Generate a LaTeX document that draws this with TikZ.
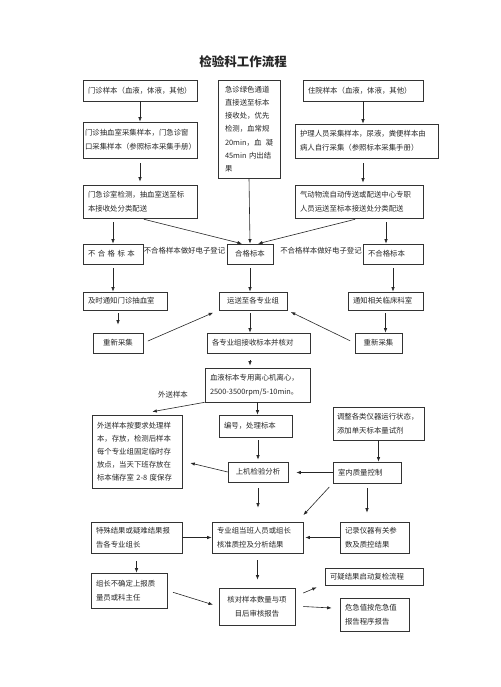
\documentclass[tikz,border=0pt]{standalone}
\usepackage{fontspec}
\newfontfamily\cjk{Noto Sans CJK SC}
\usetikzlibrary{arrows.meta}

\begin{document}
\begin{tikzpicture}[x=1pt,y=-1pt,
    box/.style={draw=black!80, line width=0.6pt, inner xsep=5pt, inner ysep=0pt,
      align=left, font=\cjk\fontsize{7.4}{14}\selectfont, text=black!85},
    cbox/.style={box, align=center},
    lbl/.style={font=\cjk\fontsize{7.4}{14}\selectfont, text=black!85, inner sep=0pt},
    arr/.style={-{Latex[length=4.5pt,width=3.4pt]}, draw=black!85, line width=0.6pt}]
  \useasboundingbox (0,0) rectangle (500,687);

  \node[lbl, font=\cjk\bfseries\fontsize{12.5}{14}\selectfont] (title) at (243,62) {检验科工作流程};

  % sample intake
  \node[box, text width=104pt, minimum height=21pt] (out_smp) at (140,90.5) {门诊样本（血液，体液，其他）};
  \node[box, inner xsep=2pt, text width=110pt, minimum height=36pt] (out_col) at (140,140) {门诊抽血室采集样本，门急诊窗\\口采集样本（参照标本采集手册）};
  \node[box, text width=104pt, minimum height=33pt] (out_chk) at (140,201.5) {门急诊室检测，抽血室送至标\\本接收处分类配送};
  \node[box, inner xsep=7pt, text width=48pt, minimum height=98pt,
    font=\cjk\fontsize{7.4}{13.2}\selectfont] (emg) at (249,129) {急诊绿色通道\\直接送至标本\\接收处，优先\\检测，血常规\\20min，血\hfill 凝\\45min~内出结\\果};
  \node[box, text width=110pt, minimum height=21pt] (in_smp) at (363,90.5) {住院样本（血液，体液，其他）};
  \node[box, text width=133pt, minimum height=34pt] (in_col) at (366.5,141) {护理人员采集样本，尿液，粪便样本由\\病人自行采集（参照标本采集手册）};
  \node[box, text width=118pt, minimum height=33pt] (in_tr) at (359,201.5) {气动物流自动传送或配送中心专职\\人员运送至标本接送处分类配送};

  % sorting
  \node[box, text width=50pt, minimum height=20pt] (bad_l) at (113,254) {不 合 格 标 本};
  \node[cbox, minimum width=46pt, minimum height=20pt] (good) at (250,254) {合格标本};
  \node[box, text width=50pt, minimum height=20pt] (bad_r) at (393,254) {不合格标本};
  \node[lbl] (reg_l) at (184.5,251) {不合格样本做好电子登记};
  \node[lbl] (reg_r) at (321,251) {不合格样本做好电子登记};
  \node[box, text width=74pt, minimum height=18pt] (note_l) at (125,301) {及时通知门诊抽血室};
  \node[cbox, minimum width=68pt, minimum height=18pt] (send) at (253,301) {运送至各专业组};
  \node[box, text width=65pt, minimum height=18pt] (note_r) at (385.5,301) {通知相关临床科室};
  \node[cbox, minimum width=50pt, minimum height=20pt] (redo_l) at (118,343) {重新采集};
  \node[box, text width=93pt, minimum height=20pt] (recv) at (258.5,343) {各专业组接收标本并核对};
  \node[cbox, minimum width=47pt, minimum height=20pt] (redo_r) at (378.5,343) {重新采集};

  % testing
  \node[box, text width=95pt, minimum height=34pt] (cent) at (257.5,385) {血液标本专用离心机离心，\\2500-3500rpm/5-10min。};
  \node[lbl] (ext_lbl) at (173,395) {外送样本};
  \node[box, text width=80pt, minimum height=73pt,
    font=\cjk\fontsize{7.4}{13}\selectfont] (ext) at (137,451.5) {外送样本按要求处理样\\本，存放，检测后样本\\每个专业组固定临时存\\放点，当天下班存放在\\标本储存室 2-8 度保存};
  \node[box, text width=63pt, minimum height=22pt] (num) at (255.5,426) {编号，处理标本};
  \node[cbox, minimum width=60pt, minimum height=20pt] (anal) at (258,472) {上机检验分析};
  \node[box, inner xsep=4pt, text width=83pt, minimum height=33pt] (adj) at (378.5,423.5) {调整各类仪器运行状态，\\添加单天标本量试剂};
  \node[box, text width=58pt, minimum height=21pt] (qc) at (367,472.5) {室内质量控制};

  % reporting
  \node[box, text width=81pt, minimum height=31pt] (spec) at (136.5,537.5) {特殊结果或疑难结果报\\告各专业组长};
  \node[box, text width=81pt, minimum height=31pt] (chk) at (257.5,537.5) {专业组当班人员或组长\\核准质控及分析结果};
  \node[box, text width=59pt, minimum height=31pt] (rec) at (374.5,537.5) {记录仪器有关参\\数及质控结果};
  \node[box, text width=66pt, minimum height=35pt] (lead) at (129,590.5) {组长不确定上报质\\量员或科主任};
  \node[cbox, minimum width=76pt, minimum height=37pt] (audit) at (257,606.5) {核对样本数量与项\\目后审核报告};
  \node[box, text width=88pt, minimum height=17pt] (rechk) at (374,576.5) {可疑结果启动复检流程};
  \node[box, text width=59pt, minimum height=33pt] (crit) at (374.5,614.5) {危急值按危急值\\报告程序报告};

  \draw[arr] (out_smp.south) -- (out_col.north);
  \draw[arr, shorten <=5pt, shorten >=3pt] (out_col.south) -- (out_chk.north);
  \draw[arr] (in_smp.south) -- (in_smp.south |- in_col.north);
  \draw[arr, shorten <=5pt, shorten >=2pt] (in_smp.south |- in_col.south) -- (in_smp.south |- in_tr.north);
  \draw[arr, shorten <=4pt] (out_chk.south -| bad_l.north) -- (bad_l.north);
  \draw[arr, shorten <=4pt] (out_chk.south) -- ([xshift=-8pt]good.north);
  \draw[arr] (emg.south) -- (good.north);
  \draw[arr, shorten <=4pt] (in_tr.south) -- ([xshift=8pt]good.north);
  \draw[arr, shorten <=4pt] ([xshift=-7pt]bad_r.north |- in_tr.south) -- ([xshift=-7pt]bad_r.north);
  \draw[arr, shorten <=4pt] (bad_l.south) -- (bad_l.south |- note_l.north);
  \draw[arr, shorten <=4pt] (good.south) -- (good.south |- send.north);
  \draw[arr, shorten <=4pt] (bad_r.south) -- (bad_r.south |- note_r.north);
  \draw[arr, shorten <=3pt, shorten >=8pt] (redo_l.north |- note_l.south) -- (redo_l.north);
  \draw[arr, shorten <=5pt, shorten >=6pt] (redo_l.east) -- (send.south west);
  \draw[arr, shorten <=5pt, shorten >=4pt] (redo_r.west) -- (send.south east);
  \draw[arr, shorten <=3pt] (note_r.south) -- (note_r.south |- redo_r.north);
  \draw[arr, shorten <=3pt] (good.south |- send.south) -- (good.south |- recv.north);
  \draw[arr, shorten <=7pt, shorten >=2pt] (good.south |- recv.south) -- (good.south |- cent.north);
  \draw[arr] (cent.south west) -- ([xshift=-30pt,yshift=3pt]ext.north east);
  \draw[arr] (cent.south) -- (cent.south |- num.north);
  \draw[arr, shorten <=3pt, shorten >=2pt] (anal.north |- num.south) -- (anal.north);
  \draw[arr] (anal.west) -- ([xshift=8pt,yshift=-11.5pt]ext.east);
  \draw[arr, shorten <=6pt, shorten >=14pt] (anal.south) -- (anal.south |- chk.north);
  \draw[arr] (adj.south) -- (adj.south |- qc.north);
  \draw[arr, shorten >=8pt] (qc.west) -- (qc.west -| anal.east);
  \draw[arr, shorten <=5pt, shorten >=9pt] (qc.south west) -- ([xshift=-6pt]chk.north east);
  \draw[arr, shorten <=5pt, shorten >=9pt] (qc.south) -- (qc.south |- rec.north);
  \draw[arr] (spec.east) -- (chk.west);
  \draw[arr, shorten >=2pt] (rec.west) -- (chk.east);
  \draw[arr, shorten <=8pt] (spec.south) -- (spec.south |- lead.north);
  \draw[arr, shorten <=7pt, shorten >=8pt] (chk.south) -- (chk.south |- audit.north);
  \draw[arr, shorten <=6pt, shorten >=6pt] (lead.east) -- (audit.west);
  \draw[arr] ([xshift=8pt,yshift=13.5pt]audit.east) -- ([xshift=-8pt,yshift=-2pt]rechk.south west);
  \draw[arr] ([xshift=8pt]audit.east) -- ([xshift=-8pt,yshift=6.5pt]crit.west);
\end{tikzpicture}
\end{document}
